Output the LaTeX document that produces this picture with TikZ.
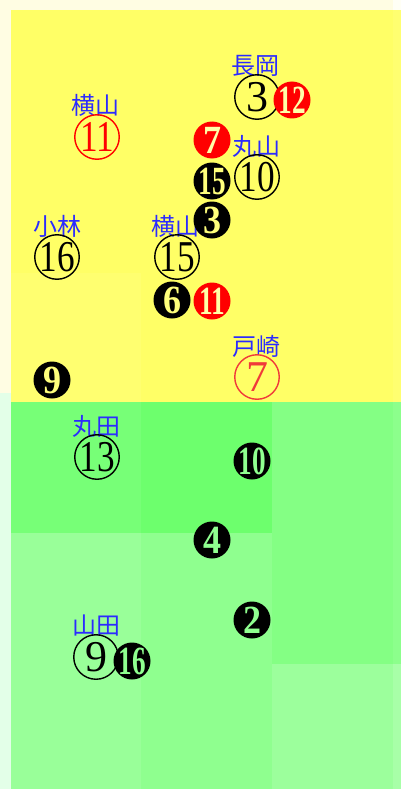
\documentclass[tikz,border=0pt]{standalone}
\usepackage{fontspec}
\newfontfamily\cjk{Noto Sans CJK JP}
\newfontfamily\numfont{Liberation Serif}
\usepackage{graphicx}
\usepackage{tikz}
\definecolor{cream}{HTML}{FFFDE3}
\definecolor{creamw}{HTML}{FFFFF5}
\definecolor{mint}{HTML}{E3FFE8}
\definecolor{yelmain}{HTML}{FFFF66}
\definecolor{yelpale}{HTML}{FFFF70}
\definecolor{yelknock}{HTML}{FFFF7C}
\definecolor{redknock}{HTML}{FFFFA8}
\definecolor{grnrowa}{HTML}{77FF77}
\definecolor{grnrowb}{HTML}{6DFF6D}
\definecolor{grnrowc}{HTML}{84FF84}
\definecolor{grnrowd}{HTML}{99FF99}
\definecolor{grnrowe}{HTML}{8FFF8F}
\definecolor{grnrowf}{HTML}{9CFF9C}
\definecolor{grnedge}{HTML}{8CFF8C}
\definecolor{grnedgel}{HTML}{A8FFA8}
\definecolor{grnknock}{HTML}{90FF90}
\definecolor{nameblue}{HTML}{2B2BFF}
\definecolor{ringred}{HTML}{F03A3A}

\begin{document}
\begin{tikzpicture}[x=1pt, y=-1pt,
  ringcirc/.style n args={2}{circle, draw=#2, line width=1.4pt, minimum size=44.5pt, inner sep=0pt, label={[ringnum, text=#2]center:{#1}}},
  solidcirc/.style n args={2}{circle, fill=black, minimum size=37pt, inner sep=0pt, label={[solidnum, text=#2]center:{#1}}},
  ringnum/.style={inner sep=0pt, font=\numfont\fontsize{44}{44}\selectfont},
  solidnum/.style={inner sep=0pt, font=\numfont\bfseries\fontsize{40}{40}\selectfont},
  who/.style={inner sep=0pt, text=nameblue, font=\cjk\fontsize{24}{24}\selectfont}]
     \useasboundingbox (0,0) rectangle (401,789);
     \fill [cream](0,0) rectangle(401,789);
     \fill [creamw](393,0) rectangle(401,10);
     \fill [mint](0,393) rectangle(11,789);
     \fill [yelmain](11,10) rectangle(401,402);
     \fill [yelpale](11,273) rectangle(141,402);
     \fill [yelpale](393,10) rectangle(401,402);
     \fill [grnrowa](11,402) rectangle(141,533);
     \fill [grnrowb](141,402) rectangle(272,533);
     \fill [grnrowc](272,402) rectangle(393,664);
     \fill [grnedge](393,402) rectangle(401,664);
     \fill [grnrowd](11,533) rectangle(141,789);
     \fill [grnrowe](141,533) rectangle(272,789);
     \fill [grnrowf](272,664) rectangle(393,789);
     \fill [grnedgel](393,664) rectangle(401,789);

     \node[who] (nagaoka) at (255,66) {長岡};
     \node[who] (yokoyamaa) at (95,105) {横山};
     \node[who] (maruyama) at (256,146) {丸山};
     \node[who] (kobayashi) at (57,226) {小林};
     \node[who] (yokoyamab) at (175,226) {横山};
     \node[who] (tozaki) at (256,346) {戸崎};
     \node[who] (maruta) at (96,426) {丸田};
     \node[who] (yamada) at (96,626) {山田};

     \node[ringcirc={3}{black}] (ring3) at (257,97) {};
     \node[ringcirc={\scalebox{.8}[1]{11}}{red}] (ring11) at (97,137) {};
     \node[ringcirc={\scalebox{.8}[1]{10}}{black}] (ring10) at (257,177) {};
     \node[ringcirc={\scalebox{.8}[1]{16}}{black}] (ring16) at (57,257) {};
     \node[ringcirc={\scalebox{.8}[1]{15}}{black}] (ring15) at (177,257) {};
     \node[ringcirc={7}{ringred}] (ring7) at (257,377) {};
     \node[ringcirc={\scalebox{.8}[1]{13}}{black}] (ring13) at (97,457) {};
     \node[ringcirc={9}{black}] (ring9) at (96,657) {};

     \node[solidcirc={\scalebox{.68}[1]{12}}{redknock}, fill=red] (solid12) at (292,100) {};
     \node[solidcirc={\scalebox{.9}[1]{7}}{redknock}, fill=red] (solid7) at (212,140) {};
     \node[solidcirc={\scalebox{.68}[1]{15}}{yelknock}] (solid15) at (212,181) {};
     \node[solidcirc={\scalebox{.9}[1]{3}}{yelknock}] (solid3) at (212,220) {};
     \node[solidcirc={\scalebox{.9}[1]{6}}{yelknock}] (solid6) at (172,300) {};
     \node[solidcirc={\scalebox{.68}[1]{11}}{redknock}, fill=red] (solid11) at (212,301) {};
     \node[solidcirc={\scalebox{.9}[1]{9}}{yelknock}] (solid9) at (52,380) {};
     \node[solidcirc={\scalebox{.68}[1]{10}}{grnknock}] (solid10) at (252,461) {};
     \node[solidcirc={\scalebox{.9}[1]{4}}{grnknock}] (solid4) at (212,540) {};
     \node[solidcirc={\scalebox{.9}[1]{2}}{grnknock}] (solid2) at (252,620) {};
     \node[solidcirc={\scalebox{.68}[1]{16}}{grnknock}] (solid16) at (132,661) {};
\end{tikzpicture}
\end{document}
